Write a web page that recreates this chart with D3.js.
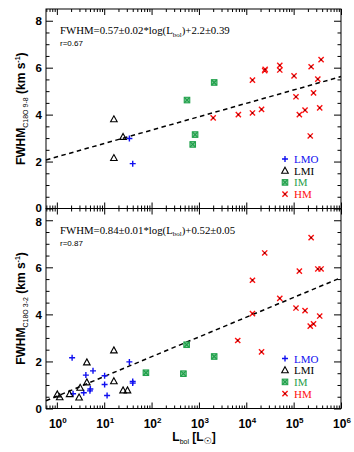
<!DOCTYPE html>
<html>
<head>
<meta charset="utf-8">
<script src="https://cdn.jsdelivr.net/npm/d3@7"></script>
<style>
  body { margin: 0; background: #fff; }
  svg { display: block; }
</style>
</head>
<body>
<svg width="354" height="452"></svg>
<script>
// L_bol values (L_sun) and FWHM (km/s)
// top panel: C18O 9-8
const topLMO = [[34, 2.98], [40, 1.91]];
const topLMI = [[16, 3.80], [25, 3.05], [16, 2.15]];
const topIM = [[560, 4.62], [2100, 5.37], [830, 3.15], [740, 2.73]];
const topHM = [
    [2000, 3.86], [6800, 4.00], [13500, 5.47], [13500, 4.07], [21000, 4.22],
    [24500, 5.87], [25000, 5.93], [51000, 6.10], [51000, 5.90], [102000, 5.65],
    [112000, 4.76], [132000, 4.00], [174000, 4.19], [224000, 3.09], [234000, 6.04],
    [263000, 4.93], [324000, 5.51], [355000, 4.29], [380000, 6.34]
];

// bottom panel: C18O 3-2
const botLMO = [
    [2.1, 2.16], [2.2, 0.63], [3.7, 0.67], [4.1, 1.42], [5.0, 0.75], [5.1, 0.83],
    [5.8, 1.60], [10.2, 1.39], [10.2, 1.02], [11.5, 0.55], [34, 1.98], [40, 1.15], [40, 1.08]
];
const botLMI = [
    [1.02, 0.60], [1.15, 0.48], [1.86, 0.61], [2.95, 0.47], [3.1, 0.88], [4.3, 1.96],
    [4.3, 1.11], [16, 2.47], [16, 1.16], [25, 0.77], [31, 0.77]
];
const botIM = [[76, 1.52], [550, 2.71], [470, 1.48], [2100, 2.21]];
const botHM = [
    [6600, 2.89], [13500, 5.45], [13500, 4.03], [21000, 2.41], [24500, 6.61],
    [51000, 4.68], [112000, 4.27], [132000, 5.84], [174000, 4.16], [224000, 3.50],
    [234000, 7.26], [263000, 3.60], [324000, 5.93], [380000, 5.93], [355000, 3.93]
];

// fit lines: [slope, intercept]
const topFit = [0.57, 2.2];
const botFit = [0.84, 0.52];

const xTicks = [1, 10, 100, 1000, 10000, 100000, 1000000];
const yTicks = [0, 2, 4, 6, 8];
const legendNames = ["LMO", "LMI", "IM", "HM"];

const colors = { LMO: "#1010f0", LMI: "#000000", IM: "#1fa04a", HM: "#ff1010" };

const svg = d3.select("svg");
const left = 46, right = 341;

const x = d3.scaleLog().domain([0.59, 1e6]).range([left, right]);

const minorX = [];
for (let e = -1; e < 6; e++) {
    for (let m = 2; m <= 9; m++) {
        const v = m * Math.pow(10, e);
        if (v > 0.59 && v < 1e6) minorX.push(v);
    }
}
const minorY = d3.range(0.5, 8.5, 0.5).filter(v => v % 2 !== 0);

function drawMarker(g, type, px, py) {
    if (type === "LMO") {
        g.append("path")
            .attr("d", `M${px - 3},${py}H${px + 3}M${px},${py - 3}V${py + 3}`)
            .attr("stroke", colors.LMO).attr("stroke-width", 1.4).attr("fill", "none");
    } else if (type === "LMI") {
        g.append("path")
            .attr("d", `M${px},${py - 3.5}L${px + 3.3},${py + 2.5}L${px - 3.3},${py + 2.5}Z`)
            .attr("stroke", colors.LMI).attr("stroke-width", 1.1).attr("fill", "none");
    } else if (type === "IM") {
        g.append("rect")
            .attr("x", px - 2.8).attr("y", py - 2.8).attr("width", 5.6).attr("height", 5.6)
            .attr("fill", "#7cc995").attr("stroke", colors.IM).attr("stroke-width", 1);
        g.append("path")
            .attr("d", `M${px - 2.5},${py - 2.5}L${px + 2.5},${py + 2.5}M${px + 2.5},${py - 2.5}L${px - 2.5},${py + 2.5}`)
            .attr("stroke", colors.IM).attr("stroke-width", 1.2);
    } else {
        g.append("path")
            .attr("d", `M${px - 2.6},${py - 2.6}L${px + 2.6},${py + 2.6}M${px + 2.6},${py - 2.6}L${px - 2.6},${py + 2.6}`)
            .attr("stroke", colors.HM).attr("stroke-width", 1.4);
        g.append("circle").attr("cx", px).attr("cy", py).attr("r", 0.9).attr("fill", "#600");
    }
}

function drawPanel(top, bottom, sets, fit, eqText, rText, transLabel, showXLabels) {
    const y = d3.scaleLinear().domain([0, 8.5]).range([bottom, top]);
    const g = svg.append("g");

    // ticks on all four sides, pointing inward
    const tickStyle = sel => { sel.select(".domain").remove(); sel.selectAll("line").attr("stroke", "#000"); sel.selectAll("text").remove(); };
    g.append("g").attr("transform", `translate(0,${bottom})`)
        .call(d3.axisBottom(x).tickValues(xTicks).tickSize(-6).tickFormat("")).call(tickStyle);
    g.append("g").attr("transform", `translate(0,${bottom})`)
        .call(d3.axisBottom(x).tickValues(minorX).tickSize(-3).tickFormat("")).call(tickStyle);
    g.append("g").attr("transform", `translate(0,${top})`)
        .call(d3.axisTop(x).tickValues(xTicks).tickSize(-6).tickFormat("")).call(tickStyle);
    g.append("g").attr("transform", `translate(0,${top})`)
        .call(d3.axisTop(x).tickValues(minorX).tickSize(-3).tickFormat("")).call(tickStyle);
    g.append("g").attr("transform", `translate(${left},0)`)
        .call(d3.axisLeft(y).tickValues(yTicks).tickSize(-7).tickFormat("")).call(tickStyle);
    g.append("g").attr("transform", `translate(${left},0)`)
        .call(d3.axisLeft(y).tickValues(minorY).tickSize(-3.5).tickFormat("")).call(tickStyle);
    g.append("g").attr("transform", `translate(${right},0)`)
        .call(d3.axisRight(y).tickValues(yTicks).tickSize(-7).tickFormat("")).call(tickStyle);
    g.append("g").attr("transform", `translate(${right},0)`)
        .call(d3.axisRight(y).tickValues(minorY).tickSize(-3.5).tickFormat("")).call(tickStyle);

    g.append("rect").attr("x", left).attr("y", top)
        .attr("width", right - left).attr("height", bottom - top)
        .attr("fill", "none").attr("stroke", "#000").attr("stroke-width", 1);

    // y tick labels (nudged apart where the panels meet)
    g.selectAll(".ylab").data(yTicks).enter().append("text")
        .attr("x", left - 4)
        .attr("y", d => y(d) + 4.3 + (showXLabels && d === 8 ? 1 : 0) - (!showXLabels && d === 0 ? 1 : 0))
        .attr("text-anchor", "end")
        .attr("font-family", "Liberation Sans, Arial, sans-serif")
        .attr("font-weight", "bold").attr("font-size", 11.5)
        .text(d => d);

    if (showXLabels) {
        g.selectAll(".xlab").data(xTicks).enter().append("text")
            .attr("x", d => x(d) + 1).attr("y", bottom + 19)
            .attr("text-anchor", "middle")
            .attr("font-family", "Liberation Sans, Arial, sans-serif")
            .attr("font-weight", "bold").attr("font-size", 12)
            .each(function(d) {
                const t = d3.select(this);
                t.append("tspan").text("10");
                t.append("tspan").attr("dy", -5).attr("font-size", 8).text(Math.round(Math.log10(d)));
            });
    }

    // dashed fit line
    const xd = x.domain();
    const fitLine = d3.line().x(d => x(d)).y(d => y(fit[0] * Math.log10(d) + fit[1]));
    g.append("path").datum(xd).attr("d", fitLine)
        .attr("fill", "none").attr("stroke", "#000").attr("stroke-width", 1.5)
        .attr("stroke-dasharray", "4.5,3.5");

    // points
    const pts = g.append("g");
    legendNames.forEach((name, i) => {
        sets[i].forEach(d => drawMarker(pts, name, x(d[0]), y(d[1])));
    });

    // legend
    legendNames.forEach((name, i) => {
        const ly = top + 150 + i * 11.7;
        drawMarker(g, name, 285, ly);
        g.append("text").attr("x", 294).attr("y", ly + 4)
            .attr("font-family", "Liberation Serif, Times New Roman, serif")
            .attr("font-size", 11).attr("fill", colors[name]).text(name);
    });

    // equation and r
    const eq = g.append("text").attr("x", 60).attr("y", top + 25)
        .attr("font-family", "Liberation Serif, Times New Roman, serif").attr("font-size", 10.8);
    eq.append("tspan").text(eqText[0]);
    eq.append("tspan").attr("dy", 2.5).attr("font-size", 7).text("bol");
    eq.append("tspan").attr("dy", -2.5).text(eqText[1]);
    g.append("text").attr("x", 60).attr("y", top + 37)
        .attr("font-family", "Liberation Sans, Arial, sans-serif").attr("font-size", 8)
        .text(rText);

    // y title
    const yt = g.append("text")
        .attr("transform", `translate(25,${(top + bottom) / 2}) rotate(-90)`)
        .attr("text-anchor", "middle")
        .attr("font-family", "Liberation Sans, Arial, sans-serif")
        .attr("font-weight", "bold").attr("font-size", 12);
    yt.append("tspan").text("FWHM");
    yt.append("tspan").attr("dy", 3).attr("font-size", 7).attr("font-weight", "normal").text(transLabel);
    yt.append("tspan").attr("dy", -3).text(" (km s");
    yt.append("tspan").attr("dy", -5).attr("font-size", 7).text("-1");
    yt.append("tspan").attr("dy", 5).text(")");
}

drawPanel(9, 208.5, [topLMO, topLMI, topIM, topHM], topFit,
    ["FWHM=0.57\u00b10.02*log(L", ")+2.2\u00b10.39"], "r=0.67", "C18O 9-8", false);
drawPanel(208.5, 408.5, [botLMO, botLMI, botIM, botHM], botFit,
    ["FWHM=0.84\u00b10.01*log(L", ")+0.52\u00b10.05"], "r=0.87", "C18O 3-2", true);

// x title
const xt = svg.append("text").attr("x", 194).attr("y", 441)
    .attr("text-anchor", "middle")
    .attr("font-family", "Liberation Sans, Arial, sans-serif")
    .attr("font-weight", "bold").attr("font-size", 12);
xt.append("tspan").text("L");
xt.append("tspan").attr("dy", 3).attr("font-size", 7).attr("font-weight", "normal").text("bol");
xt.append("tspan").attr("dy", -3).text(" [L");
xt.append("tspan").attr("dy", 3).attr("font-size", 9).attr("font-weight", "normal")
    .attr("font-family", "DejaVu Sans, sans-serif").text("\u2609");
xt.append("tspan").attr("dy", -3).text("]");
</script>
</body>
</html>
